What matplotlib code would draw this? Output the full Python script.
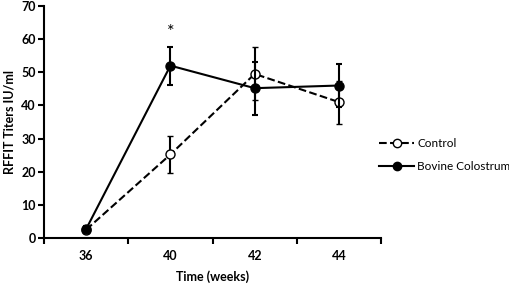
# RFFIT titers over time, control vs bovine colostrum
import numpy as np
import matplotlib.pyplot as plt
from matplotlib.lines import Line2D

weeks = ['36', '40', '42', '44']
control = [2.5, 25.2, 49.5, 41.0]
control_err = [1.0, 5.7, 8.0, 6.5]
colostrum = [2.7, 52.0, 45.2, 46.0]
colostrum_err = [1.0, 5.7, 8.0, 6.5]

plt.rcParams['font.family'] = ['Lato', 'DejaVu Sans']

fig = plt.figure(figsize=(5.1, 2.85), dpi=100)
ax = fig.add_axes([0.0863, 0.165, 0.661, 0.814])

x = np.arange(len(weeks))

ax.errorbar(x, control, yerr=control_err, color='black', linestyle='--', linewidth=1.5,
            marker='o', markersize=6.5, markerfacecolor='white', markeredgecolor='black',
            markeredgewidth=1.0, capsize=2.5, elinewidth=1.5, capthick=1.5, zorder=3)
ax.errorbar(x, colostrum, yerr=colostrum_err, color='black', linestyle='-', linewidth=1.5,
            marker='o', markersize=6.5, markerfacecolor='black', markeredgecolor='black',
            capsize=2.5, elinewidth=1.5, capthick=1.5, zorder=4)

ax.text(1, 62, '*', ha='center', va='center', fontsize=13)

ax.set_xlim(-0.5, 3.5)
ax.set_ylim(0, 70)
ax.set_yticks(range(0, 71, 10))
ax.set_xticks(x)
ax.set_xticklabels(weeks)
ax.set_xticks(np.arange(-0.5, 3.6, 1), minor=True)
ax.tick_params(axis='x', which='major', length=0, pad=9)
ax.tick_params(axis='x', which='minor', length=4, width=1.5, direction='out')
ax.tick_params(axis='y', length=4, width=1.5, direction='out', pad=2)
for lab in ax.get_xticklabels() + ax.get_yticklabels():
    lab.set_fontsize(9)
    lab.set_fontweight('bold')

ax.spines['top'].set_visible(False)
ax.spines['right'].set_visible(False)
ax.spines['left'].set_linewidth(1.5)
ax.spines['bottom'].set_linewidth(1.5)

ax.set_xlabel('Time (weeks)', fontsize=9, fontweight='bold', labelpad=6)
ax.set_ylabel('RFFIT Titers IU/ml', fontsize=9, fontweight='bold', labelpad=4)

handles = [
    Line2D([], [], color='black', linestyle='--', linewidth=1.5, marker='o', markersize=6,
           markerfacecolor='white', markeredgecolor='black', markeredgewidth=1.0),
    Line2D([], [], color='black', linestyle='-', linewidth=1.5, marker='o', markersize=6,
           markerfacecolor='black', markeredgecolor='black'),
]
ax.legend(handles, ['Control', 'Bovine Colostrum'], loc='center left',
          bbox_to_anchor=(0.976, 0.358), frameon=False, fontsize=8.5, borderpad=0,
          handlelength=3.0, handletextpad=0.25, labelspacing=1.0)

fig.savefig('out.png', dpi=100)
